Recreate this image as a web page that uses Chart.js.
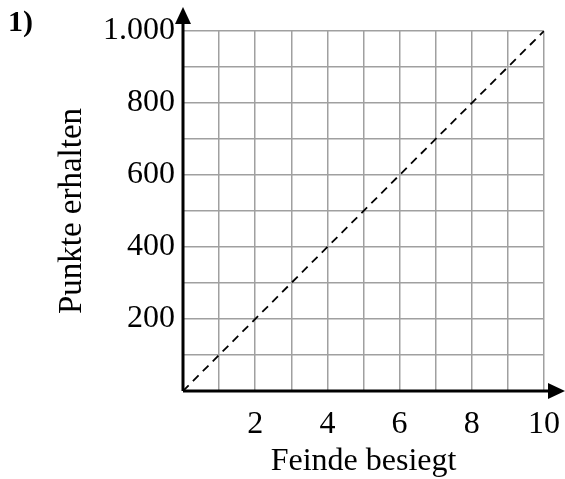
<!DOCTYPE html>
<html>
<head>
<meta charset="utf-8">
<script src="https://cdn.jsdelivr.net/npm/chart.js@4"></script>
<style>
  html, body { margin: 0; padding: 0; background: #fff; }
  #wrap { position: relative; width: 565px; height: 479px; }
  #label { position: absolute; left: 8px; top: 4px; font: bold 30px "Liberation Serif", serif; line-height: 34px; }
</style>
</head>
<body>
<div id="wrap">
  <canvas id="chart" width="565" height="479"></canvas>
  <div id="label">1)</div>
</div>
<script>
// Daten
const lineX = [0, 10];
const lineY = [0, 1000];
const xTickLabels = [2, 4, 6, 8, 10];
const yTickLabels = [200, 400, 600, 800, 1000];
const xTitle = 'Feinde besiegt';
const yTitle = 'Punkte erhalten';

const serif = '"Liberation Serif", "Times New Roman", serif';

// Achsen mit Pfeilen zeichnen
const axisArrows = {
    id: 'axisArrows',
    afterDatasetsDraw(chart) {
        const ctx = chart.ctx;
        const a = chart.chartArea;
        ctx.save();
        ctx.strokeStyle = '#000';
        ctx.fillStyle = '#000';
        ctx.lineWidth = 3;
        ctx.beginPath();
        ctx.moveTo(a.left, a.bottom);
        ctx.lineTo(a.left, 20);
        ctx.moveTo(a.left, a.bottom);
        ctx.lineTo(552, a.bottom);
        ctx.stroke();
        // Pfeil oben
        ctx.beginPath();
        ctx.moveTo(a.left, 7);
        ctx.lineTo(a.left - 8, 24);
        ctx.lineTo(a.left + 8, 24);
        ctx.closePath();
        ctx.fill();
        // Pfeil rechts
        ctx.beginPath();
        ctx.moveTo(565, a.bottom);
        ctx.lineTo(548, a.bottom - 8);
        ctx.lineTo(548, a.bottom + 8);
        ctx.closePath();
        ctx.fill();
        ctx.restore();
    }
};

new Chart(document.getElementById('chart'), {
    type: 'line',
    data: {
        datasets: [{
            data: lineX.map((x, i) => ({ x: x, y: lineY[i] })),
            borderColor: '#000',
            borderWidth: 1.8,
            borderDash: [8, 6],
            pointRadius: 0,
            fill: false
        }]
    },
    options: {
        responsive: false,
        animation: false,
        layout: { padding: { top: 31, right: 21, left: 0, bottom: 0 } },
        plugins: {
            legend: { display: false },
            tooltip: { enabled: false }
        },
        scales: {
            x: {
                type: 'linear',
                min: 0,
                max: 10,
                grid: { color: '#a0a0a0', lineWidth: 1.5, drawTicks: false },
                border: { display: false },
                ticks: {
                    stepSize: 1,
                    padding: 14,
                    color: '#000',
                    font: { family: serif, size: 32 },
                    maxRotation: 0,
                    autoSkip: false,
                    callback: v => xTickLabels.includes(v) ? String(v) : ''
                },
                title: {
                    display: true,
                    text: xTitle,
                    color: '#000',
                    font: { family: serif, size: 32 },
                    padding: { top: 0, bottom: -2 }
                },
                afterFit: s => {
                    s.height = 88;
                    s.paddingLeft = 0;
                    s.paddingRight = 0;
                }
            },
            y: {
                min: 0,
                max: 1000,
                grid: { color: '#a0a0a0', lineWidth: 1.5, drawTicks: false },
                border: { display: false },
                ticks: {
                    stepSize: 100,
                    padding: 8,
                    color: '#000',
                    font: { family: serif, size: 32 },
                    autoSkip: false,
                    callback: v => yTickLabels.includes(v) ? v.toLocaleString('de-DE') : ''
                },
                title: {
                    display: true,
                    text: yTitle,
                    color: '#000',
                    font: { family: serif, size: 33 },
                    padding: { top: 53, bottom: 0 }
                },
                afterFit: s => {
                    s.width = 183;
                    s.paddingTop = 0;
                    s.paddingBottom = 0;
                }
            }
        }
    },
    plugins: [axisArrows]
});
</script>
</body>
</html>
